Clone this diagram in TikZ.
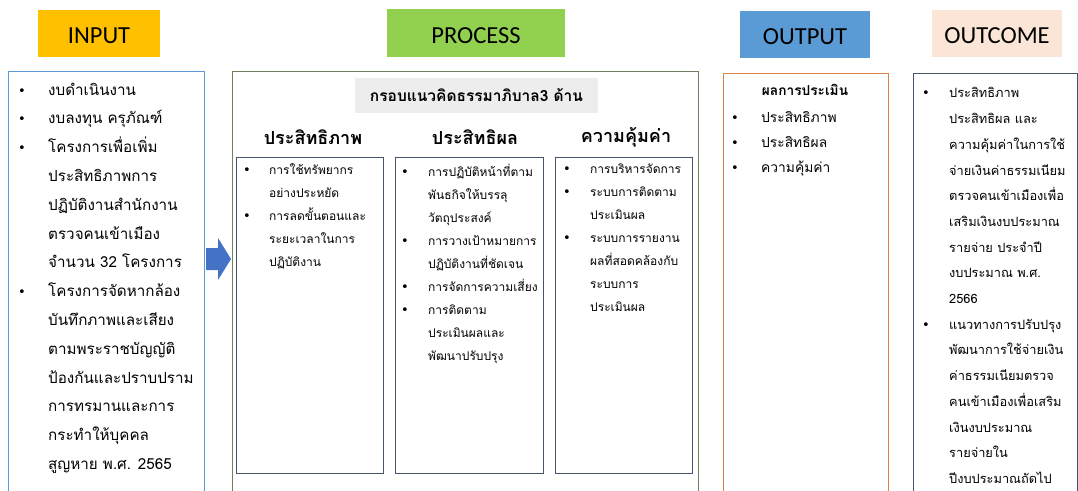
\documentclass[tikz,border=0pt]{standalone}
\usepackage{fontspec}
\setmainfont{Liberation Serif}
\newfontfamily\thai[Script=Thai]{Loma}
\newfontfamily\hdrf{Carlito}
\newfontfamily\bulf{DejaVu Sans}
\definecolor{cInput}{HTML}{FFC000}
\definecolor{cProc}{HTML}{92D050}
\definecolor{cOut}{HTML}{5B9BD5}
\definecolor{cOutc}{HTML}{FBE5D6}
\definecolor{bIn}{HTML}{5B9BD5}
\definecolor{bProc}{HTML}{6E8060}
\definecolor{bSub}{HTML}{44546A}
\definecolor{bOut}{HTML}{D9824A}
\definecolor{cArrow}{HTML}{4472C4}
\definecolor{cGray}{HTML}{EDEDED}
\newcommand\bul[1]{\makebox[#1][l]{{\bulf\fontsize{13}{13}\selectfont\char"2022}}}
\newcommand\ind[1]{\hspace*{#1}}
\begin{document}
\begin{tikzpicture}[x=1pt,y=-1pt,
  hdrbox/.style={draw=none, inner sep=0pt, text height=20pt, text depth=0pt,
                 font=\hdrf\fontsize{24.5}{26}\selectfont},
  frame/.style={line width=1pt},
  list/.style={anchor=north west, inner sep=0pt, align=left},
  colhead/.style={inner sep=0pt, font=\thai\bfseries\fontsize{18}{20}\selectfont}
]
\useasboundingbox (0,0) rectangle (1078,490);
\clip (0,0) rectangle (1078,490);
\fill[white] (0,0) rectangle (1078,490);

% headers
\node[hdrbox, fill=cInput, minimum width=122pt, minimum height=47pt] (hin) at (99,33.5) {INPUT};
\node[hdrbox, fill=cProc, minimum width=178pt, minimum height=48pt] (hproc) at (476,33) {PROCESS};
\node[hdrbox, fill=cOut, minimum width=130pt, minimum height=47pt] (hout) at (805,34.5) {OUTPUT};
\node[hdrbox, fill=cOutc, minimum width=130pt, minimum height=47pt] (houtc) at (997,33.5) {OUTCOME};

% main frames
\draw[frame, draw=bIn] (8,71) rectangle (204,500);
\draw[frame, draw=bProc] (232,71) rectangle (698,500);
\draw[frame, draw=bOut] (723,73) rectangle (888,500);
\draw[frame, draw=bSub] (913,73) rectangle (1077,500);

% arrow
\fill[cArrow] (206,248) -- (218,248) -- (218,238) -- (231,259) -- (218,280) -- (218,270) -- (206,270) -- cycle;
\coordinate (arrowmid) at (218,259);

% input list
\node[list, font=\thai\fontsize{15.2}{28.8}\selectfont] (inlist) at (18,82.5) {%
\bul{30pt}งบดำเนินงาน\\
\bul{30pt}งบลงทุน ครุภัณฑ์\\
\bul{30pt}โครงการเพื่อเพิ่ม\\
\ind{30pt}ประสิทธิภาพการ\\
\ind{30pt}ปฏิบัติงานสำนักงาน\\
\ind{30pt}ตรวจคนเข้าเมือง\\
\ind{30pt}จำนวน 32 โครงการ\\
\bul{30pt}โครงการจัดหากล้อง\\
\ind{30pt}บันทึกภาพและเสียง\\
\ind{30pt}ตามพระราชบัญญัติ\\
\ind{30pt}ป้องกันและปราบปราม\\
\ind{30pt}การทรมานและการ\\
\ind{30pt}กระทำให้บุคคล\\
\ind{30pt}สูญหาย พ.ศ. 2565};

% process title
\node[fill=cGray, minimum width=243pt, minimum height=35pt, inner sep=0pt,
      font=\thai\bfseries\fontsize{15.5}{17}\selectfont] (ptitle) at (476.5,95.5) {กรอบแนวคิดธรรมาภิบาล3 ด้าน};

% column headings
\node[colhead] (c1h) at (313,137) {ประสิทธิภาพ};
\node[colhead] (c2h) at (475,137) {ประสิทธิผล};
\node[colhead] (c3h) at (626,137) {ความคุ้มค่า};

% sub boxes
\draw[frame, draw=bSub] (236,157) rectangle (383,473);
\draw[frame, draw=bSub] (395,157) rectangle (543,473);
\draw[frame, draw=bSub] (555,157) rectangle (692,473);

\node[list, font=\thai\fontsize{12}{23}\selectfont] (c1l) at (243,164) {%
\bul{26pt}การใช้ทรัพยากร\\
\ind{26pt}อย่างประหยัด\\
\bul{26pt}การลดขั้นตอนและ\\
\ind{26pt}ระยะเวลาในการ\\
\ind{26pt}ปฏิบัติงาน};

\node[list, font=\thai\fontsize{12}{23}\selectfont] (c2l) at (401,164) {%
\bul{27pt}การปฏิบัติหน้าที่ตาม\\
\ind{27pt}พันธกิจให้บรรลุ\\
\ind{27pt}วัตถุประสงค์\\
\bul{27pt}การวางเป้าหมายการ\\
\ind{27pt}ปฏิบัติงานที่ชัดเจน\\
\bul{27pt}การจัดการความเสี่ยง\\
\bul{27pt}การติดตาม\\
\ind{27pt}ประเมินผลและ\\
\ind{27pt}พัฒนาปรับปรุง};

\node[list, font=\thai\fontsize{12}{23}\selectfont] (c3l) at (563,164) {%
\bul{27pt}การบริหารจัดการ\\
\bul{27pt}ระบบการติดตาม\\
\ind{27pt}ประเมินผล\\
\bul{27pt}ระบบการรายงาน\\
\ind{27pt}ผลที่สอดคล้องกับ\\
\ind{27pt}ระบบการ\\
\ind{27pt}ประเมินผล};

% output
\node[inner sep=0pt, font=\thai\bfseries\fontsize{13.7}{15}\selectfont] (otitle) at (805,90) {ผลการประเมิน};
\node[list, font=\thai\fontsize{13.8}{25}\selectfont] (olist) at (731,111.5) {%
\bul{30pt}ประสิทธิภาพ\\
\bul{30pt}ประสิทธิผล\\
\bul{30pt}ความคุ้มค่า};

% outcome
\node[list, font=\thai\fontsize{12.8}{25.7}\selectfont] (oclist) at (922,87.5) {%
\bul{27pt}ประสิทธิภาพ\\
\ind{27pt}ประสิทธิผล และ\\
\ind{27pt}ความคุ้มค่าในการใช้\\
\ind{27pt}จ่ายเงินค่าธรรมเนียม\\
\ind{27pt}ตรวจคนเข้าเมืองเพื่อ\\
\ind{27pt}เสริมเงินงบประมาณ\\
\ind{27pt}รายจ่าย ประจำปี\\
\ind{27pt}งบประมาณ พ.ศ.\\
\ind{27pt}2566\\
\bul{27pt}แนวทางการปรับปรุง\\
\ind{27pt}พัฒนาการใช้จ่ายเงิน\\
\ind{27pt}ค่าธรรมเนียมตรวจ\\
\ind{27pt}คนเข้าเมืองเพื่อเสริม\\
\ind{27pt}เงินงบประมาณ\\
\ind{27pt}รายจ่ายใน\\
\ind{27pt}ปีงบประมาณถัดไป};
\end{tikzpicture}
\end{document}
